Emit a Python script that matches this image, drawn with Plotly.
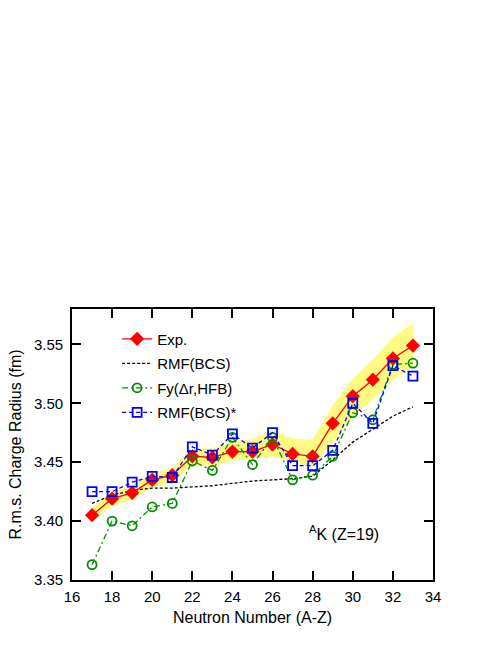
import plotly.graph_objects as go

# neutron number N = A - Z for potassium isotopes
neutrons = list(range(17, 34))

exp_radius = [3.405, 3.419, 3.424, 3.435, 3.439, 3.455, 3.454, 3.459, 3.459,
              3.465, 3.457, 3.455, 3.483, 3.506, 3.520, 3.538, 3.549]
band_hi = [3.411, 3.425, 3.430, 3.441, 3.445, 3.461, 3.462, 3.467, 3.470,
           3.477, 3.470, 3.469, 3.498, 3.521, 3.537, 3.556, 3.568]
band_lo = [3.399, 3.413, 3.418, 3.429, 3.432, 3.448, 3.447, 3.451, 3.453,
           3.455, 3.450, 3.447, 3.467, 3.489, 3.503, 3.520, 3.531]
rmf_bcs = [3.415, 3.422, 3.426, 3.428, 3.428, 3.429, 3.430, 3.432, 3.434,
           3.435, 3.436, 3.438, 3.452, 3.467, 3.478, 3.489, 3.497]
fy_hfb = [3.363, 3.400, 3.396, 3.412, 3.415, 3.451, 3.443, 3.471, 3.448,
          3.471, 3.435, 3.439, 3.455, 3.492, 3.486, 3.533, 3.534]
rmf_bcs_star = [3.425, 3.425, 3.433, 3.438, 3.437, 3.463, 3.456, 3.474, 3.462,
                3.475, 3.447, 3.447, 3.460, 3.500, 3.483, 3.532, 3.523]

FONT = "Liberation Sans, Arial, sans-serif"

fig = go.Figure()

# yellow uncertainty band
fig.add_trace(go.Scatter(x=neutrons, y=band_lo, mode="lines", line=dict(width=0),
                         showlegend=False, hoverinfo="skip"))
fig.add_trace(go.Scatter(x=neutrons, y=band_hi, mode="lines", line=dict(width=0),
                         fill="tonexty", fillcolor="rgb(255,250,130)",
                         showlegend=False, hoverinfo="skip"))

fig.add_trace(go.Scatter(x=neutrons, y=rmf_bcs, mode="lines", name="RMF(BCS)",
                         line=dict(color="black", width=1.3, dash="3px,2px"),
                         legendgroup="b", legendrank=2))
fig.add_trace(go.Scatter(x=neutrons, y=exp_radius, mode="lines+markers", name="Exp.",
                         line=dict(color="red", width=1.3),
                         marker=dict(symbol="diamond", size=11, color="red"),
                         legendgroup="a", legendrank=1))
fig.add_trace(go.Scatter(x=neutrons, y=fy_hfb, mode="lines+markers", name="Fy(\u0394r,HFB)",
                         line=dict(color="rgb(0,140,0)", width=1.3, dash="6px,3px,2px,3px"),
                         marker=dict(symbol="circle-open", size=9, color="rgb(0,140,0)",
                                     line=dict(width=1.8)),
                         legendgroup="c", legendrank=3))
fig.add_trace(go.Scatter(x=neutrons, y=rmf_bcs_star, mode="lines+markers", name="RMF(BCS)*",
                         line=dict(color="blue", width=1.3, dash="4px,3px"),
                         marker=dict(symbol="square-open", size=9, color="blue",
                                     line=dict(width=1.8)),
                         legendgroup="d", legendrank=4))

fig.add_annotation(x=27.7, y=3.39, xref="x", yref="y", xanchor="left", yanchor="middle",
                   text="<sup>A</sup>K (Z=19)", showarrow=False,
                   font=dict(family=FONT, size=16, color="black"))

axis_common = dict(showgrid=False, zeroline=False, showline=True, linecolor="black",
                   linewidth=1.8, mirror="ticks", ticks="inside", ticklen=9,
                   tickwidth=1.5, tickcolor="black", automargin=False,
                   tickfont=dict(family=FONT, size=15, color="black"))

fig.update_xaxes(range=[16, 34], dtick=2, tick0=16, ticklabelstandoff=2,
                 title=dict(text="Neutron Number (A-Z)", standoff=8,
                            font=dict(family=FONT, size=16, color="black")),
                 **axis_common)
fig.update_yaxes(range=[3.35, 3.58], dtick=0.05, tick0=3.35, tickformat=".2f",
                 ticklabelstandoff=4,
                 title=dict(text="R.m.s. Charge Radius (fm)", standoff=8,
                            font=dict(family=FONT, size=16, color="black")),
                 **axis_common)

fig.update_layout(
    width=498, height=645,
    margin=dict(l=72, r=65, t=309, b=65),
    paper_bgcolor="white", plot_bgcolor="white",
    font=dict(family=FONT, color="black"),
    legend=dict(x=0.125, y=0.95, xanchor="left", yanchor="top", traceorder="grouped",
                bgcolor="rgba(0,0,0,0)", font=dict(family=FONT, size=15, color="black"),
                tracegroupgap=2),
)

# page body has a default 8px margin; drop it so the figure fills the window
fig.write_html("out.html", config={"displayModeBar": False},
               post_script="document.body.style.margin='0';")
